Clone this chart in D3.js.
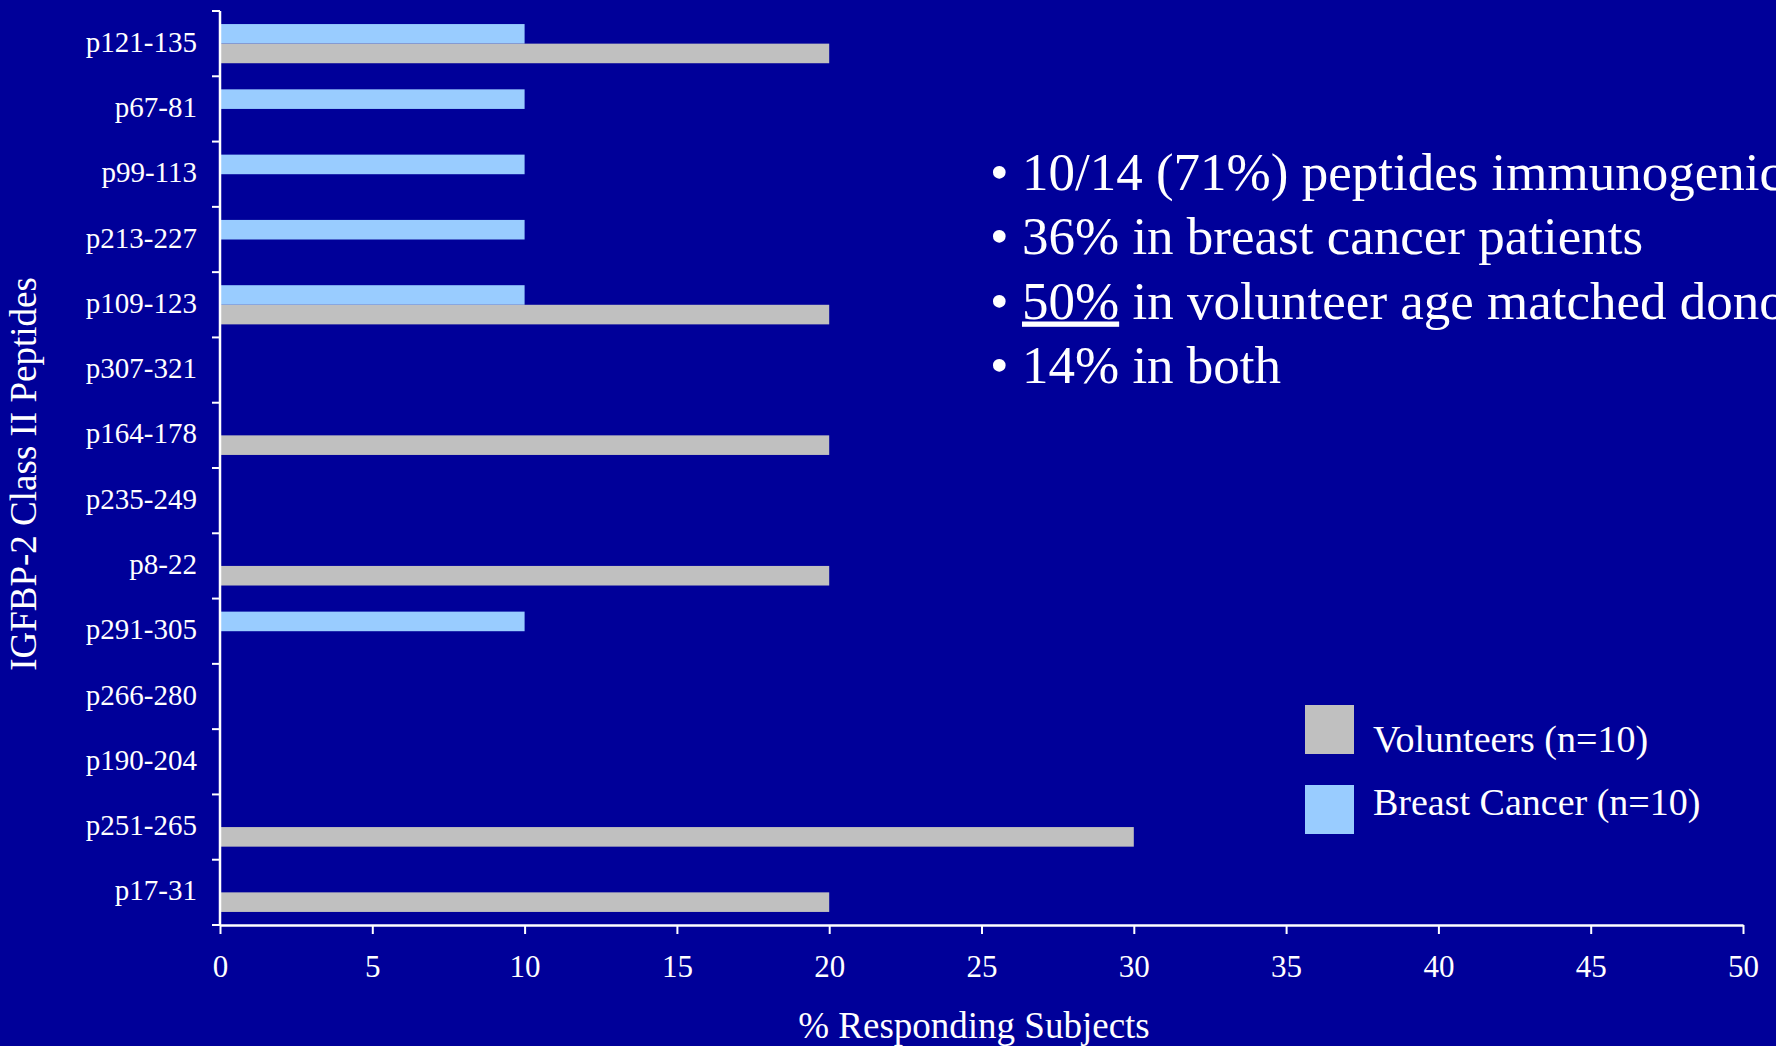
<!DOCTYPE html>
<html>
<head>
<meta charset="utf-8">
<script src="https://cdn.jsdelivr.net/npm/d3@7"></script>
<style>
  html, body { margin: 0; padding: 0; background: #000099; overflow: hidden; }
  svg { display: block; }
  text { font-family: "Liberation Serif", "Times New Roman", serif; fill: #ffffff; }
</style>
</head>
<body>
<svg id="chart" width="1776" height="1046"></svg>
<script>
// Peptides, top to bottom
const peptides = ["p121-135", "p67-81", "p99-113", "p213-227", "p109-123", "p307-321", "p164-178",
                  "p235-249", "p8-22", "p291-305", "p266-280", "p190-204", "p251-265", "p17-31"];
// % responding subjects per peptide
const breastCancer = [10, 10, 10, 10, 10, 0, 0, 0, 0, 10, 0, 0, 0, 0];
const volunteers   = [20, 0, 0, 0, 20, 0, 20, 0, 20, 0, 0, 0, 30, 20];
const xTicks = [0, 5, 10, 15, 20, 25, 30, 35, 40, 45, 50];
const seriesNames = ["Breast Cancer (n=10)", "Volunteers (n=10)"];
const seriesColors = ["#99ccff", "#c0c0c0"];
const bullets = [
  "10/14 (71%) peptides immunogenic",
  "36% in breast cancer patients",
  "50% in volunteer age matched donors",
  "14% in both"
];

const svg = d3.select("#chart");
svg.append("rect").attr("width", 1776).attr("height", 1046).attr("fill", "#000099");

const plotLeft = 220, plotRight = 1743, plotTop = 11, plotBottom = 925;

const x = d3.scaleLinear().domain([0, 50]).range([plotLeft, plotRight]);
const y = d3.scaleBand().domain(peptides).range([plotTop, plotBottom]);
const ySub = d3.scaleBand().domain([0, 1])
  .range([y.bandwidth() * 0.2, y.bandwidth() * 0.8]);

// bars
const rows = peptides.map((p, i) => ({ p, vals: [breastCancer[i], volunteers[i]] }));
const g = svg.append("g");
rows.forEach(r => {
  r.vals.forEach((v, s) => {
    if (v <= 0) return;
    g.append("rect")
      .attr("x", x(0))
      .attr("y", y(r.p) + ySub(s))
      .attr("width", x(v) - x(0))
      .attr("height", ySub.bandwidth())
      .attr("fill", seriesColors[s]);
  });
});

// x axis
const xAxis = svg.append("g")
  .attr("transform", `translate(0,${plotBottom})`)
  .call(d3.axisBottom(x).tickValues(xTicks).tickSize(9).tickSizeOuter(0).tickPadding(0));
xAxis.select(".domain").attr("stroke", "#fff").attr("stroke-width", 2.5);
xAxis.selectAll(".tick line").attr("stroke", "#fff").attr("stroke-width", 2);
xAxis.selectAll(".tick text").attr("fill", "#fff").style("font-size", "31px")
  .attr("dy", null).attr("y", 52);

// y axis: line with ticks at the band boundaries
const yAxis = svg.append("g").attr("transform", `translate(${plotLeft},0)`);
yAxis.append("line").attr("x1", 0).attr("x2", 0).attr("y1", plotTop).attr("y2", plotBottom)
  .attr("stroke", "#fff").attr("stroke-width", 2.5);
const bounds = peptides.map(p => y(p)).concat([y.range()[1]]);
yAxis.selectAll("line.tk").data(bounds).join("line").attr("class", "tk")
  .attr("x1", -8).attr("x2", 0).attr("y1", d => d).attr("y2", d => d)
  .attr("stroke", "#fff").attr("stroke-width", 2);
yAxis.selectAll("text.lbl").data(peptides).join("text").attr("class", "lbl")
  .attr("x", -23).attr("y", d => y(d) + y.bandwidth() / 2 + 8)
  .attr("text-anchor", "end").style("font-size", "29px")
  .text(d => d);

// axis titles
svg.append("text").attr("x", 974).attr("y", 1038).attr("text-anchor", "middle")
  .style("font-size", "37px").text("% Responding Subjects");
svg.append("text").attr("transform", `translate(36,474) rotate(-90)`).attr("text-anchor", "middle")
  .style("font-size", "37px").text("IGFBP-2 Class II Peptides");

// summary bullets
const bx = 990, tx = 1022, by0 = 189.5, lineH = 64.5;
bullets.forEach((b, i) => {
  svg.append("text").attr("x", bx).attr("y", by0 + i * lineH).style("font-size", "53px").text("•");
  const t = svg.append("text").attr("x", tx).attr("y", by0 + i * lineH).style("font-size", "53px");
  if (i === 2) {
    t.append("tspan").style("text-decoration", "underline").text("50%");
    t.append("tspan").text(" in volunteer age matched donors");
  } else {
    t.text(b);
  }
});

// legend
const legend = svg.append("g");
const legendBoxes = [705, 785], legendBaselines = [752, 815];
[1, 0].forEach((s, k) => {
  legend.append("rect").attr("x", 1305).attr("y", legendBoxes[k]).attr("width", 49).attr("height", 49)
    .attr("fill", seriesColors[s]);
  legend.append("text").attr("x", 1373).attr("y", legendBaselines[k]).style("font-size", "38px")
    .text(seriesNames[s]);
});
</script>
</body>
</html>
